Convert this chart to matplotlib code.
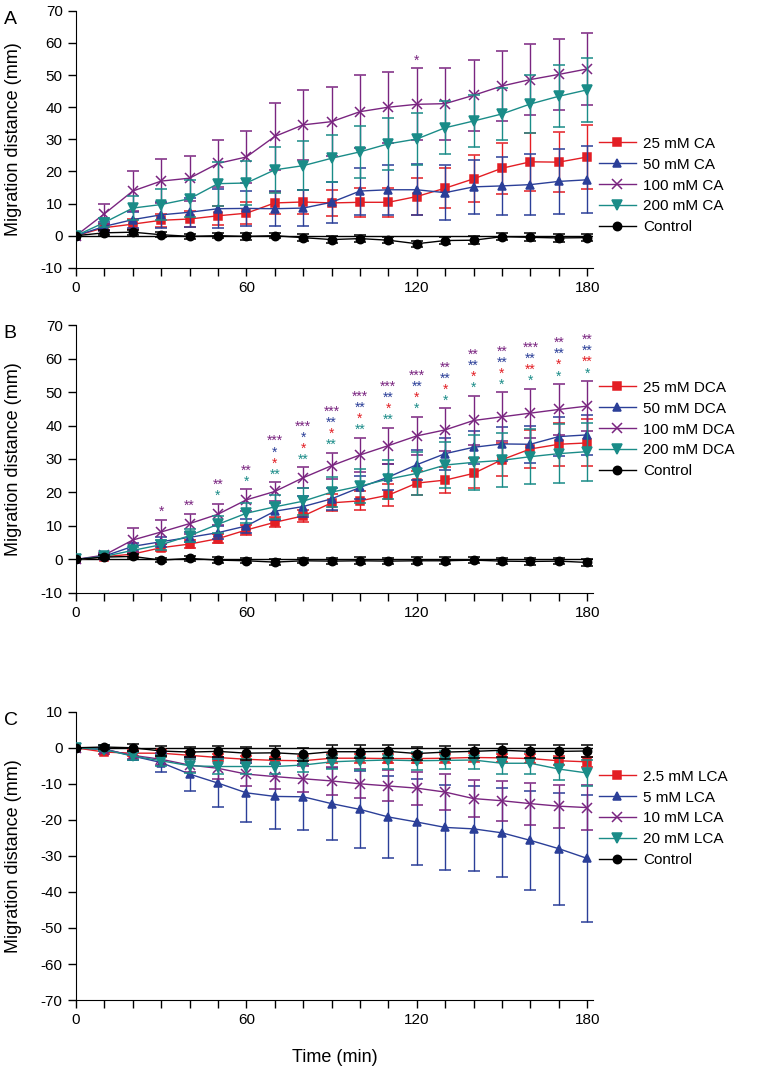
import matplotlib
matplotlib.use('Agg')
import matplotlib.pyplot as plt
from matplotlib.lines import Line2D
from matplotlib.ticker import MultipleLocator

plt.rcParams['font.family'] = ['Liberation Sans', 'DejaVu Sans']
plt.rcParams['axes.unicode_minus'] = False

t = [0, 10, 20, 30, 40, 50, 60, 70, 80, 90, 100, 110, 120, 130, 140, 150, 160, 170, 180]

# panel A (CA)
A_labels = ['25 mM CA', '50 mM CA', '100 mM CA', '200 mM CA', 'Control']
A_red = [0, 2.5, 3.6, 4.8, 5.2, 6.2, 7.0, 10.2, 10.5, 10.2, 10.4, 10.4, 12.2, 14.8, 17.7, 21.0, 23.0, 22.9, 24.5]
A_blue = [0, 2.9, 5.0, 6.5, 7.3, 8.4, 8.5, 8.4, 8.6, 10.4, 13.9, 14.3, 14.3, 13.4, 15.2, 15.5, 15.9, 16.9, 17.4]
A_purple = [0, 6.8, 13.9, 17.0, 17.9, 22.5, 24.5, 30.9, 34.5, 35.5, 38.6, 40.0, 40.9, 41.1, 43.7, 46.6, 48.6, 50.2, 51.9]
A_teal = [0, 4.1, 8.6, 9.7, 11.5, 16.2, 16.4, 20.5, 21.8, 24.1, 26.1, 28.6, 30.1, 33.6, 35.7, 37.9, 41.0, 43.4, 45.4]
A_black = [0, 0.9, 1.1, 0.3, -0.2, 0, -0.2, 0, -0.6, -1.2, -0.9, -1.4, -2.5, -1.5, -1.4, -0.3, -0.5, -0.7, -0.6]
A_red_err = [0, 1, 1.5, 2, 2.5, 3, 3.5, 3.3, 3.8, 4, 4.5, 4.5, 5.8, 6.3, 7.3, 7.9, 9, 9.4, 10]
A_blue_err = [0, 1.5, 2.5, 4, 4.5, 6, 5.5, 5.5, 5.5, 6.3, 7.3, 7.7, 7.9, 8.5, 8.5, 9, 9.6, 10, 10.4]
A_purple_err = [0, 3.2, 6.1, 6.8, 7, 7.3, 8, 10.3, 10.8, 10.8, 11.4, 11, 11.2, 11.2, 11, 11, 11, 11, 11.2]
A_teal_err = [0, 1.5, 3.7, 4.8, 5.8, 6.8, 6.8, 7.2, 7.7, 7.4, 8, 8, 8, 8.2, 8.2, 8.2, 9, 9.7, 10]
A_black_err = [0, 0.8, 0.8, 0.8, 0.8, 0.8, 1, 0.8, 1, 1, 1, 1, 1, 1.2, 1.2, 1, 1.2, 1.2, 1.2]
A_stars_purple = ['', '', '', '', '', '', '', '', '', '', '', '', '*', '', '', '', '', '', '']

# panel B (DCA)
B_labels = ['25 mM DCA', '50 mM DCA', '100 mM DCA', '200 mM DCA', 'Control']
B_red = [0, 0.8, 1.6, 3.5, 4.6, 6.2, 8.8, 11.1, 13.0, 16.9, 17.5, 19.2, 22.8, 23.7, 25.7, 29.8, 33.0, 34.4, 34.8]
B_blue = [0, 1.0, 3.9, 5.3, 6.6, 8.0, 10.0, 14.4, 15.8, 18.1, 21.5, 24.6, 28.3, 31.6, 33.5, 34.5, 34.4, 36.7, 37.2]
B_purple = [0, 1.3, 5.8, 8.2, 10.7, 13.5, 17.8, 20.3, 24.4, 28.0, 31.2, 34.0, 36.9, 38.7, 41.5, 42.6, 43.7, 44.8, 45.8]
B_teal = [0, 0.9, 2.7, 4.4, 7.1, 10.5, 13.8, 15.7, 17.4, 20.1, 21.9, 24.0, 25.7, 28.2, 29.0, 29.6, 30.7, 31.6, 32.2]
B_black = [0, 0.7, 0.9, -0.2, 0.3, -0.2, -0.4, -0.8, -0.4, -0.5, -0.4, -0.5, -0.4, -0.4, -0.2, -0.5, -0.6, -0.5, -0.9]
B_red_err = [0, 0.4, 0.6, 1, 1.2, 1.3, 1.5, 1.5, 1.8, 2.5, 2.8, 3.2, 3.6, 3.8, 4.5, 5, 5.8, 6.5, 7]
B_blue_err = [0, 0.5, 1, 1.5, 1.5, 2, 2.2, 2.5, 3, 3.2, 3.5, 4, 4.5, 4.8, 5, 5.2, 5.5, 5.8, 6]
B_purple_err = [0, 0.7, 3.6, 3.6, 3, 3.2, 3.2, 2.8, 3.1, 3.9, 5.1, 5.4, 5.7, 6.4, 7.4, 7.3, 7.3, 7.6, 7.5]
B_teal_err = [0, 0.5, 1, 1.5, 2, 2.5, 3, 3.5, 4, 4.5, 5, 5.8, 6.5, 7, 8.3, 8.1, 8.3, 8.8, 8.7]
B_black_err = [0, 0.5, 0.6, 0.6, 0.8, 0.8, 0.8, 0.8, 0.8, 1, 1, 1, 1, 1, 1, 1, 1, 1, 1]
B_stars_purple = ['', '', '', '*', '**', '**', '**', '***', '***', '***', '***', '***', '***', '**', '**', '**', '***', '**', '**']
B_stars_blue = ['', '', '', '', '', '', '', '*', '*', '**', '**', '**', '**', '**', '**', '**', '**', '**', '**']
B_stars_red = ['', '', '', '', '', '', '', '*', '*', '*', '*', '*', '*', '*', '*', '*', '**', '*', '**']
B_stars_teal = ['', '', '', '', '', '*', '*', '**', '**', '**', '**', '**', '*', '*', '*', '*', '*', '*', '*']

# panel C (LCA)
C_labels = ['2.5 mM LCA', '5 mM LCA', '10 mM LCA', '20 mM LCA', 'Control']
C_red = [0, -1.2, -1.5, -1.5, -2.1, -2.7, -3.2, -3.5, -3.6, -2.9, -2.9, -3.0, -3.0, -2.9, -2.7, -2.8, -3.0, -3.6, -3.9]
C_blue = [0, -0.3, -2.3, -4.1, -7.3, -9.8, -12.5, -13.5, -13.6, -15.5, -17.1, -19.2, -20.6, -22.1, -22.5, -23.6, -25.7, -28.0, -30.7]
C_purple = [0, -0.5, -2.1, -3.2, -4.8, -5.7, -7.3, -8.0, -8.6, -9.2, -10.0, -10.6, -11.2, -12.3, -14.1, -14.7, -15.5, -16.2, -16.6]
C_teal = [0, -0.5, -2.3, -3.6, -5.0, -5.2, -5.2, -5.2, -4.8, -3.9, -3.6, -3.4, -3.6, -3.5, -3.4, -4.3, -4.3, -5.9, -7.0]
C_black = [0, 0.2, 0, -0.9, -1.2, -1.0, -1.5, -1.4, -1.8, -1.1, -1.1, -1.0, -1.6, -1.2, -1.0, -0.7, -1.0, -1.0, -0.9]
C_red_err = [0, 0.5, 0.8, 1, 1, 1, 1, 1, 1.2, 1.2, 1.2, 1.2, 1.2, 1.2, 1.2, 1.2, 1.2, 1.2, 1.3]
C_blue_err = [0, 0.5, 1, 2.7, 4.8, 6.6, 8.2, 9.0, 9.1, 10.0, 10.6, 11.4, 11.9, 11.7, 11.8, 12.3, 13.7, 15.5, 17.6]
C_purple_err = [0, 0.5, 1, 1.5, 2, 3, 3.3, 3.5, 3.6, 3.8, 4, 4.3, 4.6, 5, 5.2, 5.5, 5.8, 6, 6.3]
C_teal_err = [0, 0.5, 1, 1.5, 2, 2, 2, 2, 2, 2, 2.5, 2.5, 2.5, 2.5, 2.5, 3, 3, 3, 3.5]
C_black_err = [0, 0.5, 1, 1.5, 1.5, 1.5, 1.8, 1.8, 1.8, 1.8, 1.8, 1.8, 1.8, 1.8, 1.8, 1.8, 1.8, 1.8, 1.8]

colors = ['#e31e24', '#2b3f98', '#7a2580', '#1a8c88', 'black']
markers = ['s', '^', 'x', 'v', 'o']
sizes = [5.5, 6, 6.5, 6.5, 6]


def panel(ax, series, errs, labels, ylim, letter, legend_y):
    ax.axhline(0, color='black', lw=1, zorder=1)
    handles = []
    for i in range(5):
        ax.errorbar(t, series[i], yerr=errs[i], color=colors[i], marker=markers[i],
                    ms=sizes[i], mew=1.1, lw=1, elinewidth=1,
                    capsize=4, capthick=1, zorder=2 + i)
        handles.append(Line2D([], [], color=colors[i], marker=markers[i], ms=sizes[i], mew=1.1, lw=1))
    ax.set_xlim(0, 182)
    ax.set_ylim(ylim)
    ax.spines['top'].set_visible(False)
    ax.spines['right'].set_visible(False)
    ax.xaxis.set_major_locator(MultipleLocator(60))
    ax.xaxis.set_minor_locator(MultipleLocator(10))
    ax.yaxis.set_major_locator(MultipleLocator(10))
    ax.tick_params(which='both', direction='out', labelsize=11, length=6, width=1)
    ax.set_ylabel('Migration distance (mm)', fontsize=13)
    ax.yaxis.set_label_coords(-0.105, 0.5)
    ax.text(-0.14, 1.0, letter, transform=ax.transAxes, fontsize=14, va='top', ha='left')
    ax.legend(handles, labels, loc='center left', bbox_to_anchor=(1.0, legend_y), frameon=False,
              fontsize=11, handlelength=2.4, handletextpad=0.5, labelspacing=0.45, borderaxespad=0)


def stars(ax, series, errs, star_lists, offset, step):
    # stack from bottom: teal, red, blue, purple
    for j in range(len(t)):
        top = max(series[i][j] + errs[i][j] for i in range(4))
        y = top + offset
        for i in [3, 0, 1, 2]:
            s = star_lists[i][j]
            if s == '':
                continue
            ax.text(t[j], y, s, color=colors[i], ha='center', va='center', fontsize=10)
            y += step


fig = plt.figure(figsize=(7.67, 10.8), dpi=100)
axA = fig.add_axes([0.099, 0.752, 0.674, 0.238])
axB = fig.add_axes([0.099, 0.451, 0.674, 0.248])
axC = fig.add_axes([0.099, 0.074, 0.674, 0.267])

panel(axA, [A_red, A_blue, A_purple, A_teal, A_black],
      [A_red_err, A_blue_err, A_purple_err, A_teal_err, A_black_err], A_labels, (-10, 70), 'A', 0.32)
stars(axA, [A_red, A_blue, A_purple, A_teal], [A_red_err, A_blue_err, A_purple_err, A_teal_err],
      [[''] * 19, [''] * 19, A_stars_purple, [''] * 19], 2.3, 3.3)

panel(axB, [B_red, B_blue, B_purple, B_teal, B_black],
      [B_red_err, B_blue_err, B_purple_err, B_teal_err, B_black_err], B_labels, (-10, 70), 'B', 0.61)
stars(axB, [B_red, B_blue, B_purple, B_teal], [B_red_err, B_blue_err, B_purple_err, B_teal_err],
      [B_stars_red, B_stars_blue, B_stars_purple, B_stars_teal], 2.3, 3.3)

panel(axC, [C_red, C_blue, C_purple, C_teal, C_black],
      [C_red_err, C_blue_err, C_purple_err, C_teal_err, C_black_err], C_labels, (-70, 10), 'C', 0.63)
axC.set_xlabel('Time (min)', fontsize=13, labelpad=16)

plt.savefig('out.png', dpi=100)
